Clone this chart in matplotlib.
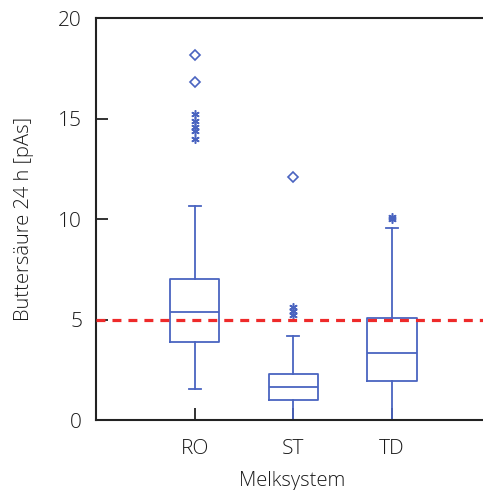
import matplotlib
matplotlib.use("Agg")
import matplotlib.pyplot as plt

plt.rcParams['font.family'] = ['Open Sans', 'DejaVu Sans']
plt.rcParams['font.weight'] = 'light'
plt.rcParams['axes.labelweight'] = 'light'

categories = ["RO", "ST", "TD"]
q1 = [3.88, 0.98, 1.94]
med = [5.37, 1.63, 3.35]
q3 = [7.0, 2.3, 5.09]
whislo = [1.54, 0.0, 0.0]
whishi = [10.65, 4.19, 9.55]
circle_fliers = [[18.16, 16.8], [12.09], []]
star_fliers = [[15.2, 14.9, 14.6, 14.4, 14.0], [5.6, 5.4, 5.2], [10.1, 10.0]]
threshold = 5.0

blue = "#4A64C0"
red = "#EE2A2A"
txt = "#1a1a1a"

fig = plt.figure(figsize=(4.83, 4.90), dpi=100)
ax = fig.add_axes([96/483, 1-420/490, 1-96/483+0.01, (420-18)/490])

stats = []
for i, c in enumerate(categories):
    stats.append(dict(label=c, q1=q1[i], med=med[i], q3=q3[i],
                      whislo=whislo[i], whishi=whishi[i], fliers=[]))
pos = [1, 2, 3]
lp = dict(color=blue, linewidth=1.3)
ax.bxp(stats, positions=pos, widths=0.5, capwidths=0.12, showfliers=False,
       boxprops=lp, whiskerprops=lp, capprops=lp, medianprops=lp)

for i, p in enumerate(pos):
    if circle_fliers[i]:
        ax.plot([p]*len(circle_fliers[i]), circle_fliers[i], linestyle='none',
                marker='D', markersize=5.5, markerfacecolor='none',
                markeredgecolor=blue, markeredgewidth=1.2)
    if star_fliers[i]:
        ax.plot([p]*len(star_fliers[i]), star_fliers[i], linestyle='none',
                marker=(6, 2, 0), markersize=6, color=blue, markeredgewidth=1.1)

ax.axhline(threshold, color=red, linewidth=2.3, dashes=(2.8, 2.2), zorder=5)

ax.set_xlim(0, 3.97)
ax.set_ylim(0, 20)
ax.set_yticks([0, 5, 10, 15, 20])
ax.set_xticks(pos)
ax.set_xticklabels(categories)
ax.tick_params(direction='in', length=8.5, width=1.3, labelsize=15, color='#222222',
               labelcolor=txt)
ax.tick_params(axis='x', pad=14)
ax.tick_params(axis='y', pad=10)
ax.spines['right'].set_visible(False)
for s in ['left', 'top', 'bottom']:
    ax.spines[s].set_linewidth(1.5)
    ax.spines[s].set_color('#222222')
ax.set_xlabel("Melksystem", fontsize=14.5, labelpad=8, color=txt)
ax.set_ylabel("Buttersäure 24 h [pAs]", fontsize=14.5, labelpad=17, color=txt)

fig.savefig("out.png", dpi=100)
